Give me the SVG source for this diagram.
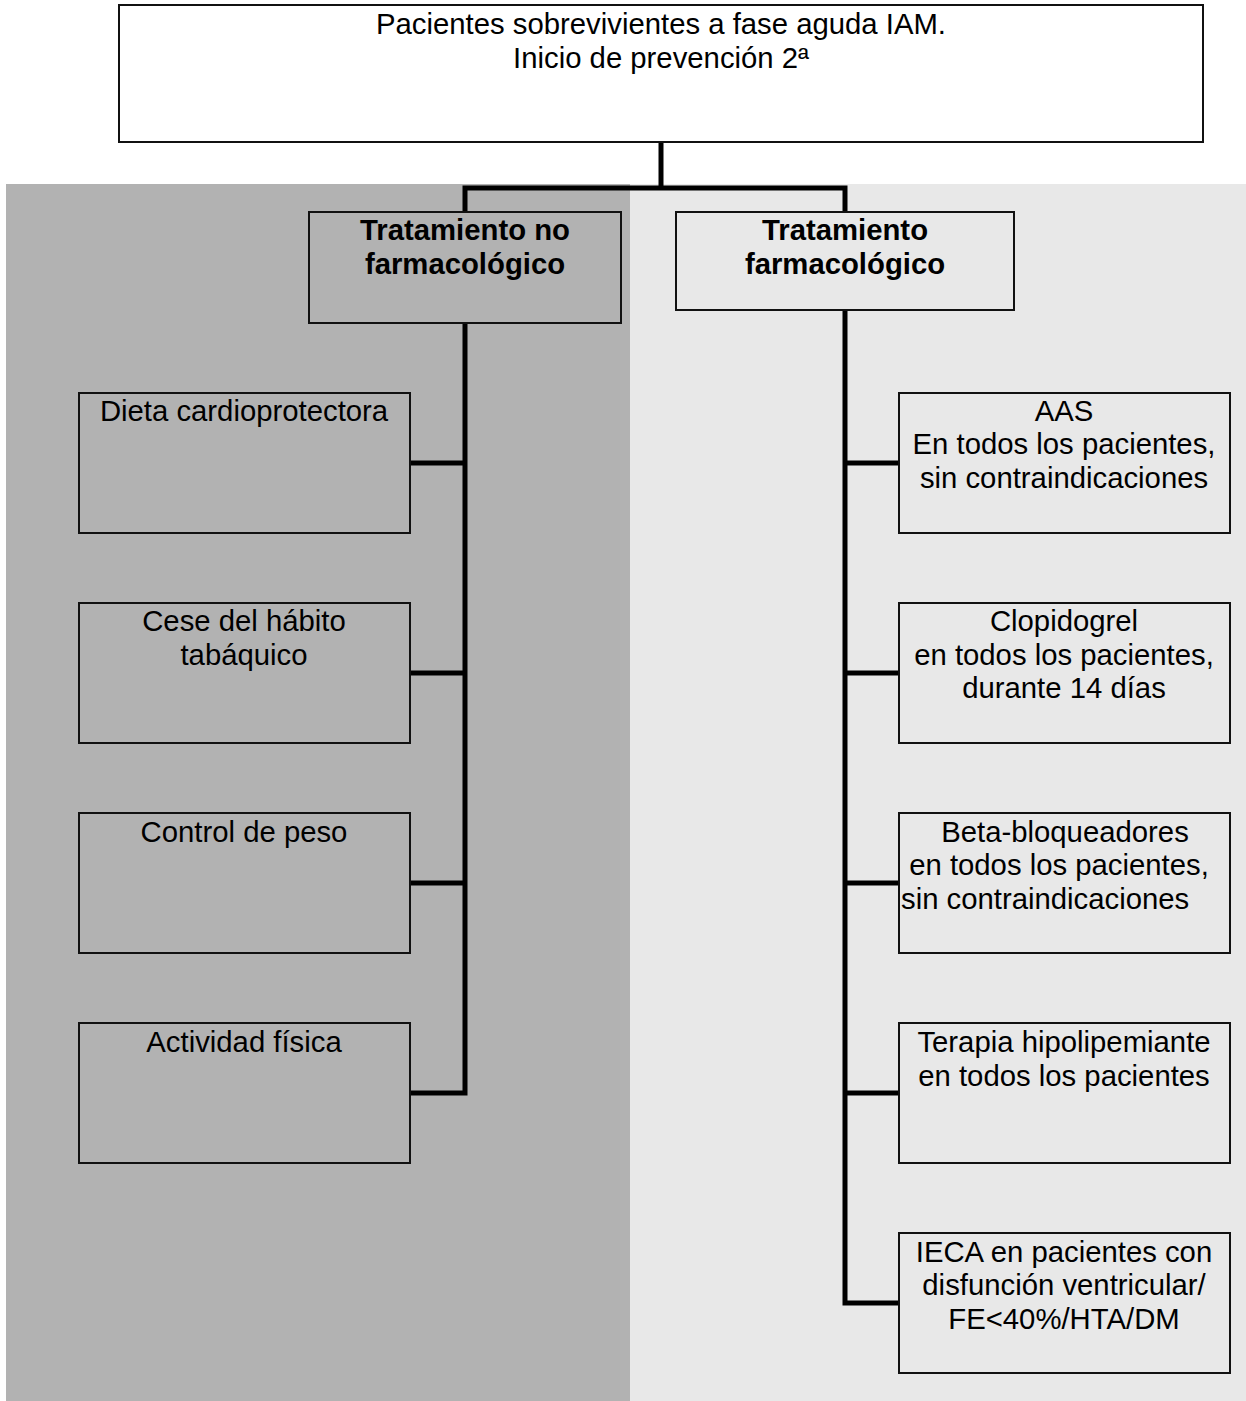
<svg xmlns="http://www.w3.org/2000/svg" width="1246" height="1401" viewBox="0 0 1246 1401">
<style>
.box{stroke:#111;stroke-width:2}
.t{font-family:"Liberation Sans",Arial,sans-serif;font-size:29.3px;fill:#000;text-anchor:middle}
.b{font-weight:bold}
.s{text-anchor:start}
.c{fill:none;stroke:#000;stroke-width:5;stroke-linejoin:miter;stroke-linecap:butt}
</style>
<g id="panels">
<rect x="6" y="184" width="624" height="1217" fill="#b2b2b2"/>
<rect x="630" y="184" width="616" height="1217" fill="#e8e8e8"/>
</g>
<g id="connectors">
<path class="c" d="M661,142 V188"/>
<path class="c" d="M465,211 V188 H845 V211"/>
<path class="c" d="M465,323 V1093 H410"/>
<path class="c" d="M410,463 H465 M410,673 H465 M410,883 H465"/>
<path class="c" d="M845,310 V1303 H899"/>
<path class="c" d="M845,463 H899 M845,673 H899 M845,883 H899 M845,1093 H899"/>
</g>
<g id="top">
<rect class="box" x="119" y="5" width="1084" height="137" fill="#fff"/>
<text class="t" x="661" y="34">Pacientes sobrevivientes a fase aguda IAM.</text>
<text class="t" x="661" y="68">Inicio de prevención 2ª</text>
</g>
<g id="no-farm">
<rect class="box" x="309" y="212" width="312" height="111" fill="#b2b2b2"/>
<text class="t b" x="465" y="240">Tratamiento no</text>
<text class="t b" x="465" y="274">farmacológico</text>
</g>
<g id="farm">
<rect class="box" x="676" y="212" width="338" height="98" fill="#e8e8e8"/>
<text class="t b" x="845" y="240">Tratamiento</text>
<text class="t b" x="845" y="274">farmacológico</text>
</g>
<g id="dieta">
<rect class="box" x="79" y="393" width="331" height="140" fill="#b2b2b2"/>
<text class="t" x="244" y="421">Dieta cardioprotectora</text>
</g>
<g id="cese">
<rect class="box" x="79" y="603" width="331" height="140" fill="#b2b2b2"/>
<text class="t" x="244" y="631">Cese del hábito</text>
<text class="t" x="244" y="665">tabáquico</text>
</g>
<g id="peso">
<rect class="box" x="79" y="813" width="331" height="140" fill="#b2b2b2"/>
<text class="t" x="244" y="842">Control de peso</text>
</g>
<g id="actividad">
<rect class="box" x="79" y="1023" width="331" height="140" fill="#b2b2b2"/>
<text class="t" x="244" y="1052">Actividad física</text>
</g>
<g id="aas">
<rect class="box" x="899" y="393" width="331" height="140" fill="#e8e8e8"/>
<text class="t" x="1064" y="421">AAS</text>
<text class="t" x="1064" y="454">En todos los pacientes,</text>
<text class="t" x="1064" y="488">sin contraindicaciones</text>
</g>
<g id="clopidogrel">
<rect class="box" x="899" y="603" width="331" height="140" fill="#e8e8e8"/>
<text class="t" x="1064" y="631">Clopidogrel</text>
<text class="t" x="1064" y="665">en todos los pacientes,</text>
<text class="t" x="1064" y="698">durante 14 días</text>
</g>
<g id="beta">
<rect class="box" x="899" y="813" width="331" height="140" fill="#e8e8e8"/>
<text class="t" x="1065" y="842">Beta-bloqueadores</text>
<text class="t" x="1059" y="875">en todos los pacientes,</text>
<text class="t s" x="901" y="909">sin contraindicaciones</text>
</g>
<g id="terapia">
<rect class="box" x="899" y="1023" width="331" height="140" fill="#e8e8e8"/>
<text class="t" x="1064" y="1052">Terapia hipolipemiante</text>
<text class="t" x="1064" y="1086">en todos los pacientes</text>
</g>
<g id="ieca">
<rect class="box" x="899" y="1233" width="331" height="140" fill="#e8e8e8"/>
<text class="t" x="1064" y="1262">IECA en pacientes con</text>
<text class="t" x="1064" y="1295">disfunción ventricular/</text>
<text class="t" x="1064" y="1329">FE&lt;40%/HTA/DM</text>
</g>
</svg>
